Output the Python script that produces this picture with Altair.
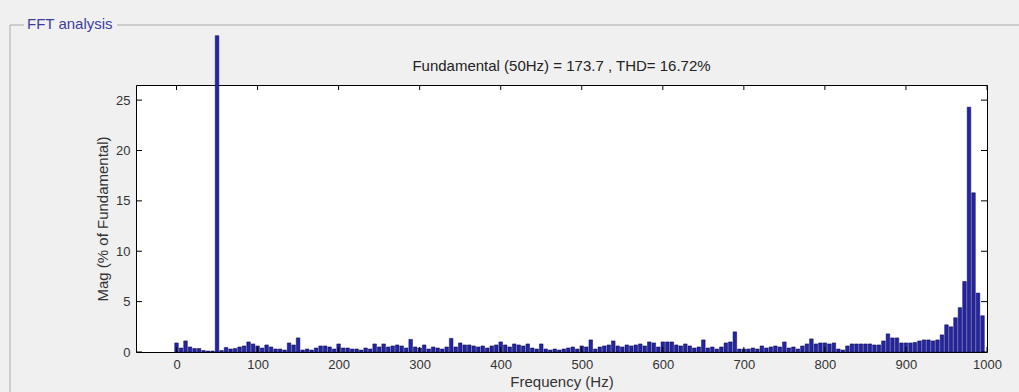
import altair as alt
import pandas as pd

# FFT bin magnitudes (% of fundamental), bins spaced 50/9 Hz, k = 0..179
mag = [
    0.9, 0.4, 1.1, 0.5, 0.35, 0.35, 0.15, 0.1, 0.1, 100.0,
    0.15, 0.45, 0.3, 0.35, 0.5, 0.6, 1.0, 0.8, 0.6, 0.4,
    0.7, 0.5, 0.3, 0.3, 0.2, 0.9, 0.7, 1.4, 0.2, 0.3,
    0.2, 0.4, 0.6, 0.6, 0.5, 0.3, 0.8, 0.4, 0.4, 0.3,
    0.3, 0.2, 0.4, 0.3, 0.8, 0.5, 0.8, 0.5, 0.6, 0.7,
    0.6, 0.4, 1.25, 0.5, 0.4, 0.7, 0.3, 0.5, 0.4, 0.3,
    0.5, 1.35, 0.5, 0.9, 0.7, 0.7, 0.6, 0.5, 0.6, 0.4,
    0.6, 0.7, 1.0, 0.7, 0.5, 0.8, 0.7, 0.6, 0.8, 0.4,
    0.3, 0.8, 0.3, 0.2, 0.3, 0.2, 0.3, 0.4, 0.5, 0.3,
    0.6, 0.5, 1.2, 0.3, 0.5, 0.6, 0.7, 1.1, 0.6, 0.5,
    0.7, 0.6, 0.7, 0.8, 0.6, 1.0, 0.9, 0.5, 1.0, 1.0,
    1.0, 0.7, 0.6, 0.8, 0.6, 0.4, 0.5, 1.2, 0.4, 0.5,
    0.3, 0.5, 0.9, 1.0, 2.0, 0.3, 0.3, 0.3, 0.4, 0.3,
    0.6, 0.4, 0.5, 0.6, 0.5, 1.0, 0.4, 0.5, 0.3, 0.6,
    0.8, 1.3, 0.8, 0.9, 0.9, 0.8, 0.9, 0.3, 0.2, 0.6,
    0.8, 0.8, 0.8, 0.8, 0.8, 0.7, 0.7, 1.1, 1.8, 1.4,
    1.4, 0.9, 0.9, 0.9, 0.95, 1.1, 1.2, 1.2, 1.1, 1.2,
    1.7, 2.7, 2.5, 3.4, 4.4, 7.0, 24.3, 15.8, 5.85, 3.6,
]
bin_hz = 50.0 / 9.0
freq = [round(k * bin_hz, 3) for k in range(len(mag))]

x_ticks = [0, 100, 200, 300, 400, 500, 600, 700, 800, 900, 1000]
y_ticks = [0, 5, 10, 15, 20, 25]

title_text = "Fundamental (50Hz) = 173.7 , THD= 16.72%"
panel_title = "FFT analysis"

W, H = 851, 267
FONT = "Liberation Sans"
TXT = "#333333"

df = pd.DataFrame({"f": freq, "mag": mag})
xt = pd.DataFrame({"t": x_ticks})
yt = pd.DataFrame({"t": y_ticks})

xs = alt.Scale(domain=[-50, 1000], nice=False, zero=False)
ys = alt.Scale(domain=[0, 26.5], nice=False)

bars = alt.Chart(df).transform_calculate(
    x1="datum.f - 2.22", x2="datum.f + 2.22", shown="min(datum.mag, 31.4)"
).mark_bar(clip=False, color="#2424a8", stroke="#0b0b45", strokeWidth=0.5).encode(
    x=alt.X("x1:Q", scale=xs, title="Frequency (Hz)",
            axis=alt.Axis(values=x_ticks, format="d", ticks=False, domain=False, grid=False,
                          labelFlush=False, labelFont=FONT, labelFontSize=13, labelColor=TXT,
                          labelPadding=6, titleFont=FONT, titleFontSize=15,
                          titleFontWeight="normal", titleColor=TXT, titlePadding=3)),
    x2="x2:Q",
    y=alt.Y("shown:Q", scale=ys, title="Mag (% of Fundamental)",
            axis=alt.Axis(values=y_ticks, ticks=False, domain=False, grid=False,
                          labelFlush=False, labelFont=FONT, labelFontSize=13, labelColor=TXT,
                          labelPadding=6, titleFont=FONT, titleFontSize=15,
                          titleFontWeight="normal", titleColor=TXT, titlePadding=5)),
    y2=alt.datum(0),
)

tb = alt.Chart(xt).mark_rule(color="black", strokeWidth=1).encode(
    x=alt.X("t:Q", scale=xs), y=alt.value(H), y2=alt.value(H - 5))
tt = alt.Chart(xt).mark_rule(color="black", strokeWidth=1).encode(
    x=alt.X("t:Q", scale=xs), y=alt.value(0), y2=alt.value(5))
tl = alt.Chart(yt).mark_rule(color="black", strokeWidth=1).encode(
    y=alt.Y("t:Q", scale=ys), x=alt.value(0), x2=alt.value(6))
tr = alt.Chart(yt).mark_rule(color="black", strokeWidth=1).encode(
    y=alt.Y("t:Q", scale=ys), x=alt.value(W), x2=alt.value(W - 6))

# group-box frame and chart title (decoration)
frame_d = pd.DataFrame({"a": [0]})
FR = "#ababab"
f_left = alt.Chart(frame_d).mark_rule(color=FR, strokeWidth=1, clip=False).encode(
    x=alt.value(-126), y=alt.value(-60), y2=alt.value(320))
f_top1 = alt.Chart(frame_d).mark_rule(color=FR, strokeWidth=1, clip=False).encode(
    x=alt.value(-126), x2=alt.value(-112), y=alt.value(-60))
f_top2 = alt.Chart(frame_d).mark_rule(color=FR, strokeWidth=1, clip=False).encode(
    x=alt.value(-19), x2=alt.value(900), y=alt.value(-60))
f_text = alt.Chart(frame_d).mark_text(
    text=panel_title, align="left", baseline="middle", font=FONT, fontSize=15,
    color="#3c3ca0", clip=False).encode(x=alt.value(-109), y=alt.value(-61))
t_text = alt.Chart(frame_d).mark_text(
    text=title_text, align="center", baseline="middle", font=FONT, fontSize=15,
    color="#222222", clip=False).encode(x=alt.value(W / 2), y=alt.value(-19))

chart = alt.layer(bars, tb, tt, tl, tr, f_left, f_top1, f_top2, f_text, t_text).properties(
    width=W, height=H,
    autosize=alt.AutoSizeParams(type="none"),
    padding={"left": 136, "top": 85, "right": 32, "bottom": 40},
    background="#f0f0f0",
).configure_view(fill="white", stroke="black", strokeWidth=1)

chart.save("out.html", embed_options={"renderer": "svg", "actions": False})
